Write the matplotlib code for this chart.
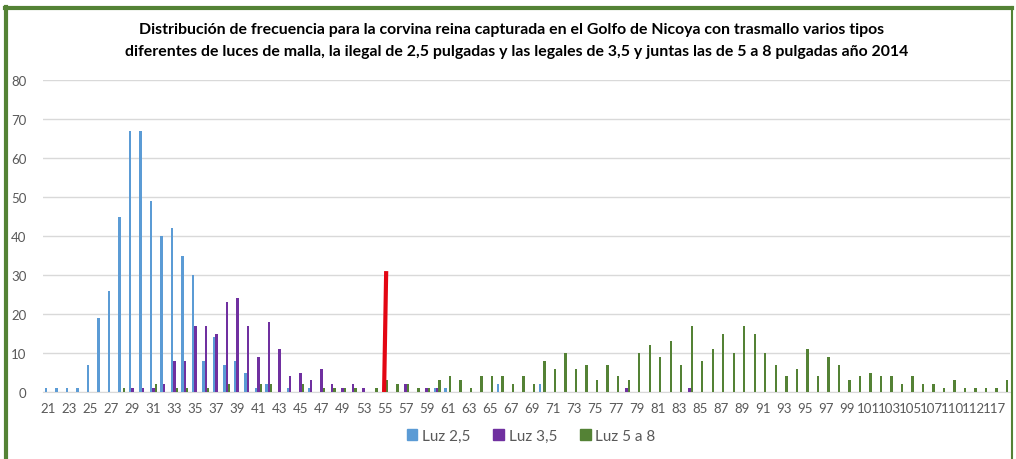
import matplotlib
matplotlib.use("Agg")
import matplotlib.pyplot as plt
from matplotlib.patches import Patch
import numpy as np

plt.rcParams['font.family'] = ['Lato', 'DejaVu Sans']

categories = (list(range(21, 50)) + [51] + list(range(53, 108)) +
              [108, 110, 111, 112, 115, 117, 118])

luz_25 = {21: 1, 22: 1, 23: 1, 24: 1, 25: 7, 26: 19, 27: 26, 28: 45, 29: 67, 30: 67,
          31: 49, 32: 40, 33: 42, 34: 35, 35: 30, 36: 8, 37: 14, 38: 7, 39: 8, 40: 5,
          41: 1, 42: 2, 44: 1, 46: 1, 60: 1, 61: 1, 66: 2, 70: 2}
luz_35 = {29: 1, 30: 1, 31: 1, 32: 2, 33: 8, 34: 8, 35: 17, 36: 17, 37: 15, 38: 23,
          39: 24, 40: 17, 41: 9, 42: 18, 43: 11, 44: 4, 45: 5, 46: 3, 47: 6, 48: 2,
          49: 1, 51: 2, 53: 1, 57: 2, 59: 1, 60: 1, 78: 1, 84: 1}
luz_58 = {28: 1, 31: 2, 33: 1, 34: 1, 36: 1, 38: 2, 41: 2, 42: 2, 45: 2, 47: 1,
          48: 1, 49: 1, 51: 1, 54: 1, 55: 3, 56: 2, 57: 2, 58: 1, 59: 1, 60: 3,
          61: 4, 62: 3, 63: 1, 64: 4, 65: 4, 66: 4, 67: 2, 68: 4, 69: 2, 70: 8,
          71: 6, 72: 10, 73: 6, 74: 7, 75: 3, 76: 7, 77: 4, 78: 3, 79: 10, 80: 12,
          81: 9, 82: 13, 83: 7, 84: 17, 85: 8, 86: 11, 87: 15, 88: 10, 89: 17, 90: 15,
          91: 10, 92: 7, 93: 4, 94: 6, 95: 11, 96: 4, 97: 9, 98: 7, 99: 3, 100: 4,
          101: 5, 102: 4, 103: 4, 104: 2, 105: 4, 106: 2, 107: 2, 108: 1, 110: 3,
          111: 1, 112: 1, 115: 1, 117: 1, 118: 3}

series_names = ["Luz 2,5", "Luz 3,5", "Luz 5 a 8"]
series_colors = ["#5B9BD5", "#7030A0", "#548235"]
series_data = [luz_25, luz_35, luz_58]

legal_size = 55
legal_marker_height = 31

title_lines = ["Distribución de frecuencia para la corvina reina capturada en el Golfo de Nicoya con trasmallo varios tipos",
               "diferentes de luces de malla, la ilegal de 2,5 pulgadas y las legales de 3,5 y juntas las de 5 a 8 pulgadas año 2014"]

fig = plt.figure(figsize=(10.16, 4.6), dpi=100)
ax = fig.add_axes([43 / 1016, 1 - 393 / 460, (1010 - 43) / 1016, (393 - 81) / 460])

x = np.arange(len(categories))
w = 1 / 4.5
for k, (d, c, name) in enumerate(zip(series_data, series_colors, series_names)):
    vals = [d.get(cat, 0) for cat in categories]
    ax.bar(x + (k - 1) * w, vals, width=w, color=c, label=name, zorder=3)

xi = categories.index(legal_size)
ax.plot([xi - 0.05, xi + 0.15], [0, legal_marker_height], color="#E30613", lw=3,
        zorder=5, solid_capstyle="butt")

ax.set_xlim(-0.5, len(categories) - 0.5)
ax.set_ylim(0, 80)
ax.set_yticks(range(0, 81, 10))
ax.yaxis.grid(True, color="#D9D9D9", lw=1)
ax.set_axisbelow(True)
for s in ["top", "right", "left"]:
    ax.spines[s].set_visible(False)
ax.spines["bottom"].set_color("#D9D9D9")
ax.set_xticks(x[::2])
ax.set_xticklabels([str(c) for c in categories[::2]])
ax.tick_params(axis="both", length=0, colors="#595959", labelsize=9.5)
ax.tick_params(axis="x", pad=7)
ax.tick_params(axis="y", pad=12)

fig.text(512 / 1016, 1 - 30 / 460, title_lines[0], ha="center", va="center", fontsize=11.4,
         fontweight="bold", color="black")
fig.text(517 / 1016, 1 - 52 / 460, title_lines[1], ha="center", va="center", fontsize=11.4,
         fontweight="bold", color="black")

handles = [Patch(color=c) for c in series_colors]
fig.legend(handles, series_names, loc="center", bbox_to_anchor=(531 / 1016, 1 - 437 / 460),
           ncol=3, frameon=False, fontsize=11, handlelength=0.7, handleheight=0.7,
           columnspacing=1.5, handletextpad=0.3, labelcolor="#595959")

border_col = "#548235"
fig.add_artist(plt.Line2D([6 / 1016, 6 / 1016], [0, 1 - 8 / 460], color=border_col,
                          lw=3, transform=fig.transFigure))
fig.add_artist(plt.Line2D([5 / 1016, 1012 / 1016], [1 - 9 / 460, 1 - 9 / 460], color=border_col,
                          lw=3, transform=fig.transFigure))
fig.add_artist(plt.Line2D([1012 / 1016, 1012 / 1016], [0, 1 - 8 / 460], color=border_col,
                          lw=1.5, transform=fig.transFigure))

fig.savefig("out.png", dpi=100)
